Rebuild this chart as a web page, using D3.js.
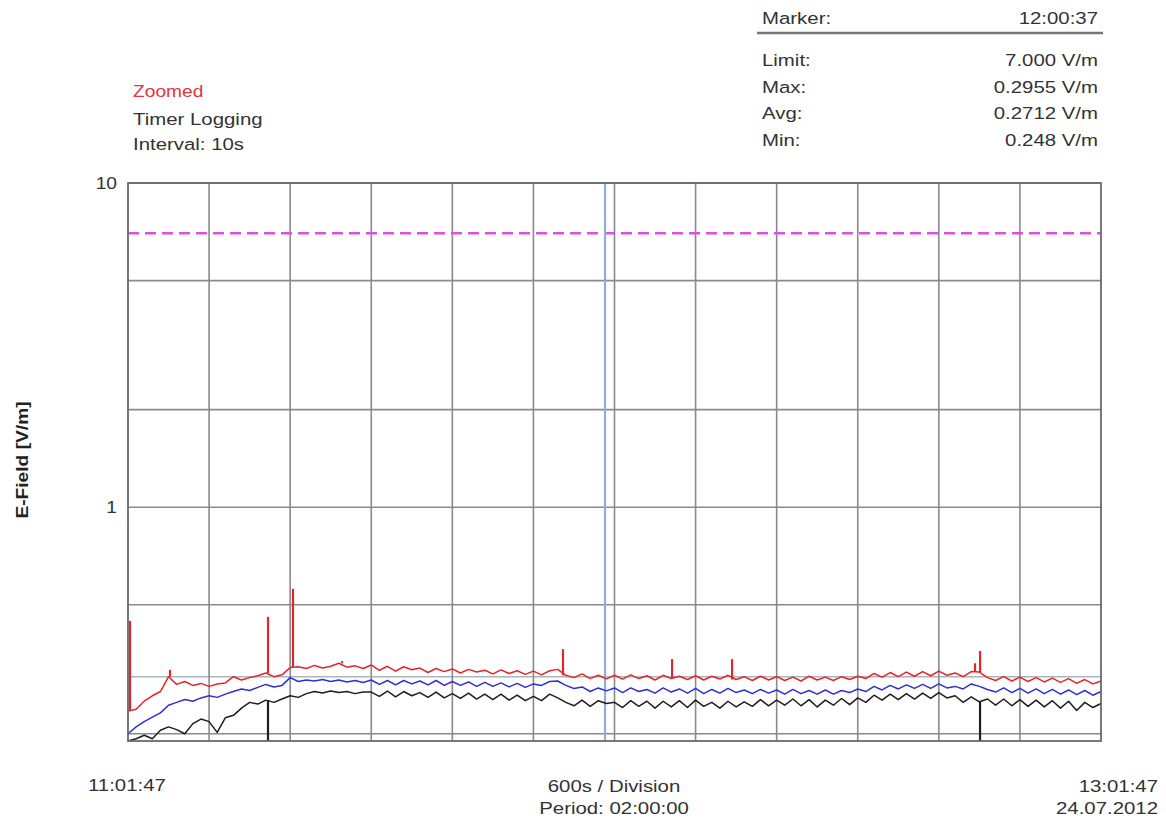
<!DOCTYPE html>
<html>
<head>
<meta charset="utf-8">
<script src="https://cdn.jsdelivr.net/npm/d3@7"></script>
<style>
  body { margin: 0; background: #fff; }
  text { font-family: "Liberation Sans", Arial, sans-serif; fill: #333; }
</style>
</head>
<body>
<div id="chart"></div>
<script>
// readings every 60 s, from 11:01:47 on 24.07.2012
var startTime = new Date(2012, 6, 24, 11, 1, 47),
	endTime = new Date(2012, 6, 24, 13, 1, 47),
	markerTime = new Date(2012, 6, 24, 12, 0, 37),
	sampleStep = 60;

var maxValues = [
	0.235,0.238,0.252,0.262,0.27,0.3,0.284,0.29,0.282,0.286,
	0.28,0.285,0.287,0.3,0.293,0.298,0.302,0.308,0.3,0.304,
	0.32,0.322,0.318,0.325,0.319,0.323,0.33,0.321,0.324,0.318,
	0.326,0.314,0.323,0.312,0.322,0.315,0.319,0.309,0.318,0.311,
	0.317,0.308,0.316,0.31,0.314,0.306,0.315,0.307,0.313,0.305,
	0.312,0.304,0.313,0.316,0.303,0.298,0.306,0.296,0.303,0.2955,
	0.303,0.295,0.304,0.296,0.302,0.293,0.303,0.296,0.301,0.294,
	0.302,0.293,0.301,0.295,0.303,0.294,0.3,0.292,0.301,0.293,
	0.3,0.292,0.299,0.291,0.301,0.293,0.299,0.292,0.3,0.294,
	0.301,0.296,0.307,0.299,0.309,0.3,0.31,0.301,0.311,0.302,
	0.312,0.303,0.308,0.3,0.311,0.31,0.298,0.292,0.3,0.291,
	0.299,0.29,0.298,0.289,0.297,0.288,0.296,0.286,0.294,0.285,0.291
];

var avgValues = [
	0.2,0.21,0.218,0.225,0.232,0.245,0.25,0.255,0.252,0.258,
	0.262,0.259,0.265,0.27,0.275,0.272,0.278,0.284,0.279,0.282,
	0.298,0.29,0.293,0.291,0.294,0.29,0.293,0.289,0.292,0.288,
	0.293,0.284,0.292,0.283,0.292,0.285,0.291,0.283,0.292,0.282,
	0.29,0.282,0.289,0.28,0.288,0.28,0.287,0.279,0.286,0.278,
	0.285,0.282,0.29,0.291,0.282,0.276,0.279,0.27,0.277,0.2712,
	0.277,0.268,0.277,0.27,0.274,0.267,0.277,0.269,0.275,0.267,
	0.276,0.266,0.274,0.267,0.276,0.268,0.273,0.266,0.274,0.267,
	0.273,0.265,0.274,0.266,0.272,0.265,0.273,0.265,0.272,0.268,
	0.275,0.27,0.28,0.273,0.282,0.275,0.283,0.276,0.284,0.276,
	0.285,0.277,0.28,0.275,0.285,0.28,0.274,0.269,0.277,0.268,
	0.276,0.267,0.275,0.266,0.274,0.265,0.273,0.264,0.272,0.263,0.27
];

var minValues = [
	0.19,0.193,0.198,0.193,0.205,0.21,0.206,0.2,0.215,0.222,
	0.218,0.202,0.224,0.228,0.24,0.25,0.247,0.254,0.25,0.256,
	0.262,0.259,0.266,0.27,0.267,0.271,0.268,0.27,0.266,0.269,
	0.269,0.261,0.271,0.26,0.27,0.262,0.268,0.259,0.269,0.258,
	0.266,0.257,0.267,0.256,0.265,0.255,0.265,0.254,0.263,0.253,
	0.261,0.253,0.265,0.258,0.25,0.244,0.254,0.243,0.253,0.248,
	0.25,0.241,0.253,0.243,0.252,0.24,0.252,0.242,0.253,0.241,
	0.254,0.243,0.25,0.24,0.252,0.242,0.251,0.243,0.255,0.244,
	0.254,0.245,0.256,0.244,0.255,0.242,0.254,0.245,0.257,0.246,
	0.258,0.25,0.263,0.254,0.265,0.255,0.266,0.256,0.267,0.257,
	0.268,0.258,0.262,0.25,0.26,0.251,0.256,0.245,0.256,0.244,
	0.255,0.243,0.254,0.242,0.253,0.24,0.252,0.236,0.25,0.241,0.248
];

// short peaks between samples (seconds after start, V/m)
var maxSpikeSec = [15, 311, 1036, 1221, 1584, 3219, 4026, 4470, 6268, 6305],
	maxSpikeVal = [0.446, 0.315, 0.459, 0.56, 0.335, 0.365, 0.34, 0.34, 0.33, 0.36];
var minSpikeSec = [1036, 6305],
	minSpikeVal = [0.19, 0.19];

var limitValue = 7.0;
var gridValues = [10, 5, 2, 1, 0.5, 0.3, 0.2],
	yLabelValues = [10, 1];

var infoLabels = ["Limit:", "Max:", "Avg:", "Min:"],
	infoValues = ["7.000 V/m", "0.2955 V/m", "0.2712 V/m", "0.248 V/m"];

var maxColor = '#e4252a',
	avgColor = '#2f2fd4',
	minColor = '#1e1e1e';

drawChart();

function label(g, x, y, str, anchor, size, color, weight){
	// source image is stretched sideways, so text is widened a bit
	return g.append("text")
		.attr("transform", "translate(" + x + "," + y + ") scale(1.2,1)")
		.attr("text-anchor", anchor)
		.style("font-size", size + "px")
		.style("font-weight", weight || "normal")
		.style("fill", color || "#333")
		.text(str);
}

function drawChart(){
	var width = 1166;
	var height = 825;
	var left = 128, right = 1101, top = 183, bottom = 741;

	var svg = d3.select("#chart")
		.append("svg")
		.attr("width", width)
		.attr("height", height);

	var x = d3.scaleTime()
		.domain([startTime, endTime])
		.range([left, right]);

	var y = d3.scaleLog()
		.domain([0.19, 10])
		.range([bottom, top]);

	var timeAt = function(sec){ return new Date(startTime.getTime() + sec * 1000); };

	var grid = svg.append("g");

	grid.selectAll("line.h")
		.data(gridValues)
		.enter()
		.append("line")
		.attr("x1", left).attr("x2", right)
		.attr("y1", function(d){ return y(d); })
		.attr("y2", function(d){ return y(d); })
		.attr("stroke", function(d){ return d == 0.3 ? "#a9b6bd" : "#8a8a8a"; })
		.attr("stroke-width", 1.6);

	// one division every 600 s
	grid.selectAll("line.v")
		.data(d3.range(600, 7200, 600).map(timeAt))
		.enter()
		.append("line")
		.attr("x1", function(d){ return x(d); })
		.attr("x2", function(d){ return x(d); })
		.attr("y1", top).attr("y2", bottom)
		.attr("stroke", "#8a8a8a")
		.attr("stroke-width", 1.6);

	// limit
	svg.append("line")
		.attr("x1", left).attr("x2", right)
		.attr("y1", y(limitValue)).attr("y2", y(limitValue))
		.attr("stroke", "#e04ce6")
		.attr("stroke-width", 2.6)
		.attr("stroke-dasharray", "11,6");

	// marker
	svg.append("line")
		.attr("x1", x(markerTime)).attr("x2", x(markerTime))
		.attr("y1", top).attr("y2", bottom)
		.attr("stroke", "#8eaed4")
		.attr("stroke-width", 2.2);

	var line = d3.line()
		.x(function(d, i){ return x(timeAt(i * sampleStep)); })
		.y(function(d){ return y(d); });

	var nearest = function(values, sec){ return values[Math.round(sec / sampleStep)]; };

	var series = [
		{ values: minValues, color: minColor, spikes: d3.zip(minSpikeSec, minSpikeVal) },
		{ values: avgValues, color: avgColor, spikes: [] },
		{ values: maxValues, color: maxColor, spikes: d3.zip(maxSpikeSec, maxSpikeVal) }
	];

	series.forEach(function(s){
		svg.append("path")
			.datum(s.values)
			.attr("fill", "none")
			.attr("stroke", s.color)
			.attr("stroke-width", 1.5)
			.attr("stroke-linejoin", "round")
			.attr("d", line);

		svg.selectAll(null)
			.data(s.spikes)
			.enter()
			.append("line")
			.attr("x1", function(d){ return x(timeAt(d[0])); })
			.attr("x2", function(d){ return x(timeAt(d[0])); })
			.attr("y1", function(d){ return y(nearest(s.values, d[0])); })
			.attr("y2", function(d){ return y(d[1]); })
			.attr("stroke", s.color)
			.attr("stroke-width", 2.2);
	});

	// frame
	svg.append("rect")
		.attr("x", left).attr("y", top)
		.attr("width", right - left).attr("height", bottom - top)
		.attr("fill", "none")
		.attr("stroke", "#6a6a6a")
		.attr("stroke-width", 1.8);

	var text = svg.append("g");

	yLabelValues.forEach(function(d){
		label(text, 117, y(d) + 6, d3.format("~g")(d), "end", 16);
	});

	text.append("text")
		.attr("transform", "translate(28,460) rotate(-90) scale(1.2,1)")
		.attr("text-anchor", "middle")
		.style("font-size", "16px")
		.style("font-weight", "bold")
		.style("fill", "#222")
		.text("E-Field [V/m]");

	label(text, 133, 97, "Zoomed", "start", 16, "#e0363a");
	label(text, 133, 125, "Timer Logging", "start", 17);
	label(text, 133, 150, "Interval: 10s", "start", 17);

	label(text, 762, 24, "Marker:", "start", 17);
	label(text, 1098, 24, "12:00:37", "end", 17);
	svg.append("line")
		.attr("x1", 757).attr("x2", 1103)
		.attr("y1", 33).attr("y2", 33)
		.attr("stroke", "#777")
		.attr("stroke-width", 2.5);

	infoLabels.forEach(function(d, i){
		label(text, 762, 66 + i * 26.7, d, "start", 17);
		label(text, 1098, 66 + i * 26.7, infoValues[i], "end", 17);
	});

	label(text, 88, 791, d3.timeFormat("%H:%M:%S")(startTime), "start", 17);
	label(text, 614, 792, "600s / Division", "middle", 17);
	label(text, 614, 814, "Period: 02:00:00", "middle", 17);
	label(text, 1158, 792, d3.timeFormat("%H:%M:%S")(endTime), "end", 17);
	label(text, 1158, 814, d3.timeFormat("%d.%m.%Y")(endTime), "end", 17);
}
</script>
</body>
</html>
